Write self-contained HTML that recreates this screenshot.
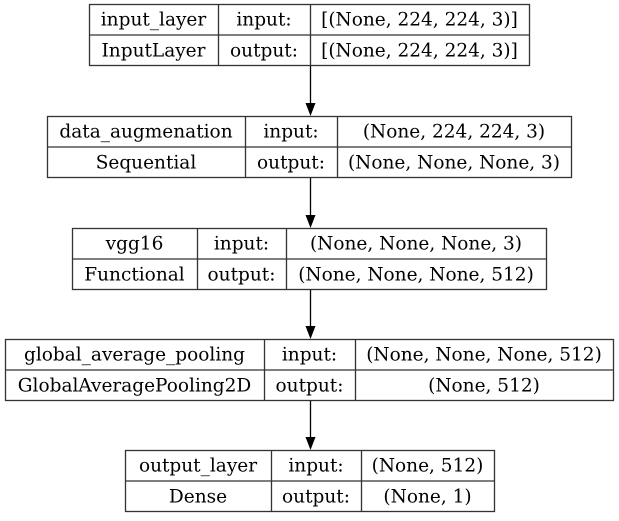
<!DOCTYPE html>
<html><head><meta charset="utf-8"><style>
body{margin:0;background:#fff;width:619px;height:516px;overflow:hidden}
svg text{font-family:"DejaVu Serif","Liberation Serif",serif;font-size:18.5px;fill:#000;text-anchor:middle;dominant-baseline:central}
</style></head><body>
<svg id="g" width="619" height="516"></svg>
<script>
const layerNames=["input_layer","data_augmenation","vgg16","global_average_pooling","output_layer"];
const layerTypes=["InputLayer","Sequential","Functional","GlobalAveragePooling2D","Dense"];
const inShapes=["[(None, 224, 224, 3)]","(None, 224, 224, 3)","(None, None, None, 3)","(None, None, None, 512)","(None, 512)"];
const outShapes=["[(None, 224, 224, 3)]","(None, None, None, 3)","(None, None, None, 512)","(None, 512)","(None, 1)"];
const boxX=[[89,218,310,529],[47,245,337,571],[72,197,286,546],[5,264,355,613],[125,271,361,494]];
const boxY=[4,116,228,339,450];
const H=61,NS="http://www.w3.org/2000/svg",svg=document.getElementById('g');
function mk(t,a,p){const e=document.createElementNS(NS,t);for(const k in a)e.setAttribute(k,a[k]);(p||svg).appendChild(e);return e;}
for(let i=0;i<5;i++){
 const [x0,x1,x2,x3]=boxX[i],y=boxY[i];
 const grp=mk('g',{});
 
 
 mk('rect',{x:x0+.5,y:y+.5,width:x3-x0,height:H,fill:'none',stroke:'#333','stroke-width':1.3},grp);
 mk('line',{x1:x0,x2:x3,y1:y+31,y2:y+31,stroke:'#333','stroke-width':1.3},grp);
 mk('line',{x1:x1+.5,x2:x1+.5,y1:y,y2:y+H,stroke:'#333','stroke-width':1.3},grp);
 mk('line',{x1:x2+.5,x2:x2+.5,y1:y,y2:y+H,stroke:'#333','stroke-width':1.3},grp);
 const cells=[[layerNames[i],(x0+x1)/2,y+16,x1-x0],[layerTypes[i],(x0+x1)/2,y+47,x1-x0],["input:",(x1+x2)/2,y+16,x2-x1],["output:",(x1+x2)/2,y+47,x2-x1],[inShapes[i],(x2+x3)/2,y+16,x3-x2],[outShapes[i],(x2+x3)/2,y+47,x3-x2]];
 cells.forEach((c,j)=>{const t=mk('text',{x:c[1],y:c[2]},grp);t.textContent=c[0];
  
  
  const w=t.getComputedTextLength(),mx=c[3]-12;
  if(w>mx){t.setAttribute('textLength',mx);t.setAttribute('lengthAdjust','spacingAndGlyphs');}
 });
 if(i<4){
  const yb=y+H+1,yt=boxY[i+1];
  const ar=mk('g',{});
  
  
  mk('line',{x1:310.5,x2:310.5,y1:yb,y2:yt-12,stroke:'#000','stroke-width':1.3},ar);
  mk('polygon',{points:`305.5,${yt-13} 315.5,${yt-13} 310.5,${yt}`,fill:'#000'},ar);
 }
}
</script>
</body></html>
